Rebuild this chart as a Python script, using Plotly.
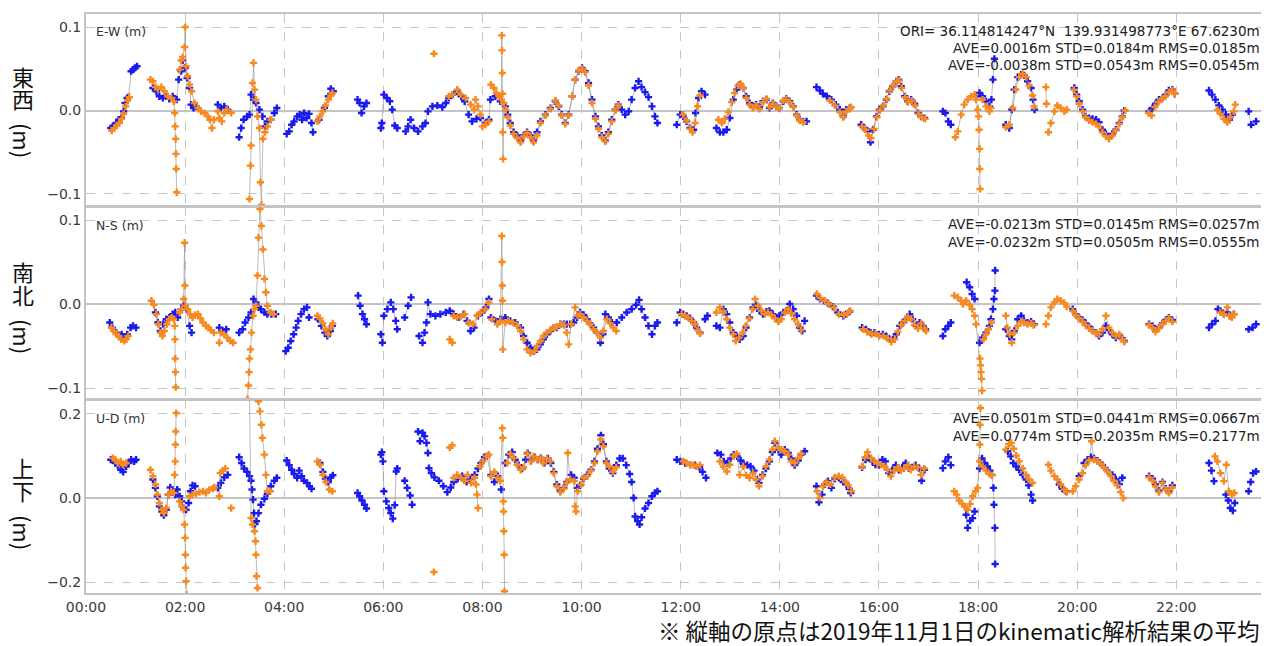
import plotly.graph_objects as go
from plotly.subplots import make_subplots

# ---------------- DATA (hours since 00:00, metres) ----------------
tick_vals = [0, 2, 4, 6, 8, 10, 12, 14, 16, 18, 20, 22]
tick_text = ["00:00", "02:00", "04:00", "06:00", "08:00", "10:00", "12:00",
             "14:00", "16:00", "18:00", "20:00", "22:00"]

# ---- E-W, blue ----
ew_blue_t = [
    [0.50, 0.54, 0.61, 0.66, 0.71, 0.76, 0.79, 0.83, 0.86, 0.91, 0.95, 0.99, 1.03],
    [1.35, 1.42, 1.48, 1.55, 1.62, 1.68, 1.75, 1.83, 1.87, 1.92, 1.95, 2.00, 2.04, 2.09, 2.12, 2.17, 2.22],
    [2.66, 2.72, 2.79, 2.86],
    [3.09, 3.13, 3.18, 3.25, 3.30, 3.33, 3.38, 3.43, 3.50, 3.56, 3.61, 3.66, 3.73, 3.80, 3.85],
    [4.05, 4.10, 4.15, 4.20, 4.26, 4.31, 4.36, 4.40, 4.45, 4.50, 4.55, 4.58],
    [4.70, 4.81, 4.89, 4.94, 4.99],
    [5.48, 5.52, 5.56, 5.61, 5.66],
    [5.95, 5.97, 6.01, 6.07, 6.13, 6.18, 6.23, 6.28],
    [6.45, 6.50, 6.55, 6.62, 6.70, 6.79, 6.85, 6.90, 6.99, 7.09, 7.19, 7.26, 7.32, 7.40, 7.49,
     7.57, 7.64, 7.72, 7.79, 7.88, 7.96, 8.06, 8.13, 8.16, 8.26, 8.36, 8.46, 8.51, 8.56, 8.63,
     8.70, 8.77, 8.83, 8.90, 8.97, 9.03, 9.10, 9.17, 9.27, 9.37, 9.47, 9.54, 9.60, 9.67, 9.74,
     9.81, 9.87, 9.94, 10.01, 10.07, 10.14, 10.21, 10.28, 10.34, 10.41, 10.48, 10.54, 10.61, 10.68, 10.74,
     10.81, 10.88, 10.95, 11.01, 11.08, 11.15, 11.21, 11.28, 11.35, 11.42, 11.48, 11.53],
    [11.92, 11.99, 12.05, 12.12, 12.19, 12.26, 12.30, 12.36, 12.42, 12.49],
    [12.72, 12.79, 12.86, 12.93, 12.99, 13.06, 13.13, 13.19, 13.26, 13.32, 13.39, 13.46, 13.52, 13.59,
     13.66, 13.73, 13.79, 13.86, 13.93, 13.99, 14.07, 14.13, 14.20, 14.27, 14.34, 14.40, 14.47, 14.54],
    [14.74, 14.81, 14.87, 14.95, 15.04, 15.13, 15.21, 15.28, 15.34, 15.41],
    [15.64, 15.71, 15.78, 15.83, 15.88, 15.95, 16.01, 16.08, 16.15, 16.21, 16.28, 16.35, 16.40, 16.45,
     16.52, 16.58, 16.65, 16.72, 16.79, 16.85, 16.92],
    [17.29, 17.34, 17.40, 17.45],
    [17.96, 18.03, 18.09, 18.16, 18.23, 18.27, 18.30, 18.33],
    [18.56, 18.63, 18.68, 18.73, 18.80, 18.87, 18.93, 19.00, 19.07, 19.11, 19.14],
    [19.94, 19.99, 20.04, 20.11, 20.17, 20.24, 20.31, 20.38, 20.44, 20.51, 20.58, 20.64, 20.71, 20.78,
     20.85, 20.91, 20.95],
    [21.45, 21.52, 21.58, 21.65, 21.72, 21.79, 21.85, 21.92, 21.97],
    [22.66, 22.72, 22.79, 22.86, 22.93, 23.00, 23.07, 23.13],
    [23.46, 23.51, 23.61],
]
ew_blue_v = [
    [-0.021, -0.019, -0.015, -0.011, -0.009, -0.001, 0.009, 0.015, 0.016, 0.047, 0.049, 0.051, 0.053],
    [0.027, 0.023, 0.017, 0.015, 0.017, 0.014, 0.017, 0.013, 0.037, 0.047, 0.060, 0.051, 0.039, 0.027, 0.007, 0.003, 0.005],
    [0.007, 0.003, 0.005, 0.001],
    [-0.032, -0.021, -0.011, -0.007, -0.005, 0.019, 0.013, 0.009, 0.001, -0.007, -0.019, -0.013, -0.011, -0.003, 0.003],
    [-0.028, -0.025, -0.017, -0.013, -0.007, -0.005, -0.011, -0.003, -0.009, -0.004, -0.015, -0.026],
    [-0.011, 0.003, 0.017, 0.026, 0.023],
    [0.013, 0.009, -0.003, 0.005, 0.009],
    [-0.021, -0.015, 0.019, 0.015, 0.011, 0.001, -0.018, -0.021],
    [-0.025, -0.019, -0.011, -0.021, -0.025, -0.019, -0.015, -0.001, 0.005, 0.006, 0.004, 0.009, 0.015, 0.019, 0.023,
     0.017, 0.011, -0.005, -0.013, -0.010, -0.009, -0.015, -0.011, 0.013, 0.017, 0.011, 0.005, -0.005, -0.015, -0.026,
     -0.030, -0.036, -0.030, -0.026, -0.030, -0.036, -0.026, -0.013, -0.005, 0.003, 0.011, 0.005, -0.005, -0.015, -0.005,
     0.017, 0.037, 0.047, 0.051, 0.047, 0.033, 0.013, -0.007, -0.019, -0.030, -0.036, -0.026, -0.011, 0.001, 0.007,
     0.001, -0.005, -0.001, 0.013, 0.027, 0.035, 0.028, 0.022, 0.016, 0.005, -0.007, -0.015],
    [-0.017, -0.005, -0.007, -0.013, -0.021, -0.023, -0.003, 0.015, 0.023, 0.019],
    [-0.021, -0.026, -0.026, -0.023, -0.009, 0.013, 0.025, 0.031, 0.027, 0.017, 0.009, 0.005, 0.007, 0.004,
     0.011, 0.013, 0.003, 0.009, 0.005, 0.003, 0.011, 0.014, 0.011, 0.005, -0.005, -0.011, -0.013, -0.013],
    [0.028, 0.024, 0.020, 0.017, 0.013, 0.007, 0.001, -0.007, 0.001, 0.003],
    [-0.017, -0.021, -0.025, -0.038, -0.023, -0.007, 0.001, 0.005, 0.013, 0.023, 0.029, 0.035, 0.037, 0.029,
     0.017, 0.011, 0.013, 0.008, -0.003, -0.007, -0.009],
    [-0.001, -0.003, -0.013, -0.017],
    [0.017, 0.021, 0.017, 0.011, 0.005, 0.013, 0.037, 0.062],
    [-0.017, -0.021, 0.001, 0.025, 0.040, 0.043, 0.042, 0.035, 0.027, 0.013, 0.001],
    [0.027, 0.019, 0.011, 0.001, -0.007, -0.009, -0.010, -0.011, -0.014, -0.023, -0.028, -0.032, -0.028, -0.023,
     -0.015, -0.007, 0.000],
    [-0.001, 0.003, 0.008, 0.013, 0.015, 0.019, 0.024, 0.025, 0.020],
    [0.024, 0.019, 0.013, 0.006, 0.001, -0.005, -0.011, -0.005],
    [-0.001, -0.017, -0.013],
]

# ---- E-W, orange ----
ew_orange_t = [
    [0.52, 0.57, 0.62, 0.67, 0.72, 0.76, 0.80, 0.84, 0.87],
    [1.30, 1.35, 1.40, 1.45, 1.52, 1.58, 1.65, 1.72, 1.77, 1.79, 1.80, 1.81, 1.815, 1.82, 1.83],
    [1.89, 1.92, 1.95, 1.99, 2.00, 2.02, 2.05, 2.09, 2.13, 2.19, 2.26, 2.32, 2.39, 2.46, 2.50, 2.54, 2.58],
    [2.66, 2.69, 2.74, 2.79, 2.84, 2.93],
    [3.30, 3.32, 3.33, 3.36, 3.38, 3.40, 3.43, 3.46, 3.50, 3.52, 3.54, 3.57, 3.61, 3.66, 3.73],
    [4.67, 4.72, 4.78, 4.83, 4.89, 4.94, 4.97],
    [7.02],
    [7.32, 7.39, 7.49, 7.56, 7.66, 7.76, 7.83, 7.86, 7.91, 7.96, 8.00, 8.06, 8.13],
    [8.17, 8.23, 8.28, 8.34, 8.38, 8.39, 8.395, 8.40, 8.405, 8.41, 8.415, 8.43, 8.47],
    [8.51, 8.56, 8.63, 8.70, 8.77, 8.83, 8.90, 8.97, 9.03, 9.10, 9.17, 9.27, 9.37, 9.47, 9.54, 9.60, 9.67,
     9.74, 9.81, 9.87, 9.94, 10.01, 10.07, 10.14, 10.21, 10.28, 10.34, 10.41, 10.48, 10.54, 10.61, 10.68, 10.74],
    [12.05, 12.12, 12.19, 12.24, 12.29, 12.34, 12.39],
    [12.76, 12.83, 12.89, 12.96, 13.03, 13.09, 13.16, 13.21, 13.26, 13.32, 13.39, 13.46, 13.52, 13.59,
     13.66, 13.73, 13.79, 13.86, 13.93, 13.99, 14.07, 14.13, 14.20, 14.27, 14.34, 14.40, 14.47],
    [15.01, 15.11, 15.21, 15.28, 15.34, 15.41, 15.44],
    [15.66, 15.73, 15.79, 15.84, 15.90, 15.96, 16.02, 16.09, 16.16, 16.22, 16.29, 16.36, 16.41, 16.46,
     16.53, 16.59, 16.66, 16.73, 16.80, 16.86, 16.93],
    [17.54, 17.59, 17.66, 17.72, 17.79, 17.86, 17.93, 17.96, 17.99, 18.01, 18.02, 18.03, 18.035, 18.04],
    [18.09, 18.16, 18.23, 18.26],
    [18.56, 18.63, 18.70, 18.76, 18.83, 18.90, 18.97, 19.03, 19.10, 19.13],
    [19.37, 19.38],
    [19.42, 19.47, 19.54, 19.60, 19.67, 19.74, 19.79],
    [19.93, 19.99, 20.04, 20.11, 20.17, 20.24, 20.31, 20.38, 20.44, 20.51, 20.58, 20.64, 20.71, 20.78,
     20.85, 20.91, 20.97],
    [21.44, 21.50, 21.57, 21.64, 21.71, 21.78, 21.85, 21.92, 21.97],
    [22.83, 22.89, 22.96, 23.03, 23.09, 23.16, 23.19],
]
ew_orange_v = [
    [-0.024, -0.021, -0.018, -0.015, -0.010, -0.004, 0.005, 0.012, 0.016],
    [0.037, 0.035, 0.028, 0.026, 0.028, 0.023, 0.017, 0.015, 0.011, -0.003, -0.019, -0.034, -0.052, -0.070, -0.098],
    [0.049, 0.060, 0.064, 0.076, 0.100, 0.053, 0.041, 0.031, 0.023, 0.009, 0.003, -0.001, -0.003, -0.007, -0.011, -0.021, -0.011],
    [-0.001, -0.009, -0.013, -0.003, 0.001, -0.003],
    [-0.106, -0.066, -0.042, 0.033, 0.057, 0.025, 0.013, -0.007, -0.021, -0.086, -0.113, -0.034, -0.026, -0.019, -0.011],
    [-0.013, -0.007, -0.001, 0.006, 0.013, 0.018, 0.021],
    [0.068],
    [0.017, 0.019, 0.025, 0.019, 0.015, 0.007, 0.001, 0.013, 0.005, -0.005, -0.019, -0.017, -0.013],
    [0.031, 0.027, 0.021, 0.017, 0.013, 0.090, 0.072, 0.045, 0.020, -0.026, -0.058, 0.009, 0.001],
    [-0.008, -0.018, -0.028, -0.033, -0.038, -0.031, -0.027, -0.032, -0.038, -0.030, -0.015, -0.006, 0.002, 0.012,
     0.006, -0.006, -0.016, -0.006, 0.017, 0.037, 0.048, 0.050, 0.046, 0.030, 0.009, -0.010, -0.022, -0.032, -0.037,
     -0.028, -0.013, 0.000, 0.006],
    [-0.005, -0.012, -0.022, -0.026, -0.015, 0.005, 0.018],
    [-0.011, -0.015, -0.010, -0.002, 0.010, 0.021, 0.030, 0.032, 0.027, 0.015, 0.007, 0.003, 0.006, 0.002,
     0.010, 0.014, 0.004, 0.008, 0.004, 0.003, 0.012, 0.013, 0.010, 0.004, -0.006, -0.012, -0.014],
    [0.012, 0.006, -0.002, -0.008, -0.001, 0.002, 0.004],
    [-0.019, -0.023, -0.030, -0.033, -0.022, -0.008, 0.000, 0.006, 0.014, 0.024, 0.030, 0.035, 0.036, 0.027,
     0.016, 0.010, 0.012, 0.006, -0.004, -0.008, -0.010],
    [-0.032, -0.025, -0.005, 0.007, 0.013, 0.017, 0.019, 0.013, 0.001, -0.007, -0.023, -0.046, -0.070, -0.094],
    [0.013, 0.005, -0.001, 0.003],
    [-0.020, -0.017, 0.003, 0.025, 0.040, 0.044, 0.040, 0.030, 0.018, 0.005],
    [0.028, 0.008],
    [-0.026, -0.015, -0.001, 0.006, 0.003, -0.001, 0.001],
    [0.025, 0.017, 0.008, -0.001, -0.008, -0.012, -0.014, -0.016, -0.019, -0.026, -0.031, -0.034, -0.030, -0.024,
     -0.016, -0.008, 0.000],
    [-0.003, -0.006, 0.004, 0.010, 0.014, 0.017, 0.022, 0.024, 0.020],
    [0.001, -0.004, -0.010, -0.014, -0.008, -0.001, 0.007],
]

# ---- N-S, blue ----
ns_blue_t = [
    [0.48, 0.53, 0.61, 0.68, 0.72, 0.78, 0.83, 0.90, 0.95, 1.01],
    [1.40, 1.45, 1.50, 1.56, 1.62, 1.68, 1.75, 1.80, 1.85, 1.92, 1.97, 2.03, 2.09, 2.13],
    [2.69, 2.76, 2.83],
    [3.09, 3.16, 3.21, 3.28, 3.33, 3.38, 3.43, 3.48, 3.53, 3.60, 3.66, 3.74, 3.83],
    [4.03, 4.08, 4.13, 4.19, 4.24, 4.28, 4.34, 4.40, 4.46, 4.50],
    [4.68, 4.75, 4.82, 4.87, 4.93, 4.97],
    [5.49, 5.53, 5.58, 5.62, 5.66],
    [5.95, 5.98, 6.01, 6.08, 6.15, 6.20, 6.25, 6.28],
    [6.43, 6.50, 6.56],
    [6.72, 6.79, 6.83, 6.87, 6.90, 6.95, 7.05, 7.15, 7.26, 7.34, 7.42, 7.52, 7.62, 7.69, 7.76, 7.83, 7.91,
     7.99, 8.07, 8.13],
    [8.17, 8.26, 8.36, 8.46, 8.56, 8.66, 8.77, 8.83, 8.90, 8.97, 9.03, 9.10, 9.17, 9.23, 9.30, 9.37, 9.44,
     9.50, 9.57, 9.64, 9.70, 9.77, 9.84, 9.91, 9.97, 10.04, 10.11, 10.17, 10.24, 10.31, 10.38, 10.43, 10.48,
     10.54, 10.61, 10.71, 10.81, 10.91, 11.01, 11.10, 11.16, 11.21, 11.28, 11.35, 11.42, 11.48, 11.53],
    [11.92, 11.99, 12.05, 12.12, 12.19, 12.26, 12.32, 12.39],
    [12.49, 12.54],
    [12.72, 12.79, 12.86, 12.93, 12.99, 13.06, 13.13, 13.19, 13.26, 13.32, 13.39, 13.46, 13.52, 13.59,
     13.66, 13.73, 13.79, 13.86, 13.93, 13.99, 14.07, 14.13, 14.20, 14.27, 14.34, 14.40, 14.45, 14.50],
    [14.74, 14.81, 14.89, 14.97, 15.07, 15.17, 15.28, 15.34, 15.41],
    [15.66, 15.74, 15.83, 15.91, 16.00, 16.08, 16.15, 16.21, 16.28, 16.35, 16.42, 16.48, 16.55, 16.62,
     16.68, 16.75, 16.82, 16.89, 16.94],
    [17.29, 17.34, 17.40, 17.45],
    [17.77, 17.83, 17.88, 17.93],
    [18.03, 18.09, 18.16, 18.23, 18.26, 18.30, 18.32, 18.34, 18.345],
    [18.56, 18.63, 18.68, 18.73, 18.80, 18.87, 18.93, 19.00, 19.07, 19.13],
    [19.91, 19.97, 20.04, 20.11, 20.17, 20.24, 20.31, 20.38, 20.44, 20.51, 20.58, 20.64, 20.71, 20.78,
     20.85, 20.91, 20.95],
    [21.45, 21.52, 21.58, 21.65, 21.72, 21.79, 21.85, 21.92],
    [22.66, 22.72, 22.79, 22.84, 22.89, 22.96, 23.03, 23.09, 23.16],
    [23.46, 23.54, 23.61],
]
ns_blue_v = [
    [-0.022, -0.028, -0.034, -0.038, -0.036, -0.040, -0.036, -0.028, -0.026, -0.028],
    [-0.010, -0.022, -0.032, -0.024, -0.018, -0.016, -0.012, -0.010, -0.016, -0.006, -0.002, -0.006, -0.026, -0.034],
    [-0.028, -0.032, -0.030],
    [-0.034, -0.030, -0.022, -0.016, -0.010, 0.006, 0.002, -0.004, -0.006, -0.010, -0.012, -0.012, -0.012],
    [-0.056, -0.052, -0.044, -0.036, -0.028, -0.020, -0.012, -0.006, -0.004, -0.016],
    [-0.018, -0.026, -0.034, -0.038, -0.032, -0.026],
    [0.010, -0.002, -0.012, -0.018, -0.024],
    [-0.036, -0.046, -0.014, -0.006, 0.002, -0.006, -0.020, -0.030],
    [-0.016, -0.002, 0.008],
    [-0.038, -0.046, -0.034, -0.022, 0.002, -0.012, -0.014, -0.012, -0.010, -0.008, -0.012, -0.016, -0.012,
     -0.020, -0.032, -0.028, -0.014, -0.010, -0.004, 0.006],
    [-0.016, -0.020, -0.018, -0.016, -0.020, -0.022, -0.028, -0.038, -0.046, -0.052, -0.056, -0.054, -0.048,
     -0.042, -0.036, -0.032, -0.028, -0.028, -0.024, -0.024, -0.024, -0.024, -0.022, -0.016, -0.010, -0.013,
     -0.018, -0.023, -0.028, -0.034, -0.046, -0.036, -0.012, -0.016, -0.022, -0.022, -0.016, -0.010, -0.006,
     -0.001, 0.005, -0.006, -0.016, -0.026, -0.036, -0.026, -0.022],
    [-0.022, -0.010, -0.012, -0.014, -0.017, -0.022, -0.028, -0.034],
    [-0.018, -0.014],
    [-0.026, -0.028, -0.006, -0.012, -0.022, -0.034, -0.038, -0.042, -0.038, -0.028, -0.016, -0.004, -0.001,
     -0.008, -0.012, -0.009, -0.008, -0.012, -0.016, -0.014, -0.010, -0.008, 0.000, -0.006, -0.014, -0.028,
     -0.032, -0.020],
    [0.010, 0.006, 0.004, 0.001, -0.003, -0.010, -0.014, -0.012, -0.009],
    [-0.028, -0.030, -0.034, -0.034, -0.036, -0.036, -0.038, -0.042, -0.042, -0.036, -0.026, -0.022, -0.018,
     -0.012, -0.018, -0.026, -0.022, -0.026, -0.030],
    [-0.038, -0.030, -0.026, -0.022],
    [0.026, 0.020, 0.012, 0.006],
    [-0.046, -0.040, -0.034, -0.026, -0.018, -0.006, 0.006, 0.016, 0.040],
    [-0.030, -0.038, -0.042, -0.032, -0.018, -0.014, -0.020, -0.022, -0.021, -0.024],
    [-0.006, -0.012, -0.016, -0.019, -0.023, -0.027, -0.031, -0.034, -0.038, -0.034, -0.026, -0.031, -0.036,
     -0.040, -0.038, -0.041, -0.044],
    [-0.024, -0.026, -0.030, -0.028, -0.023, -0.019, -0.016, -0.019],
    [-0.028, -0.024, -0.020, -0.006, -0.008, -0.012, -0.010, -0.014, -0.012],
    [-0.030, -0.028, -0.024],
]

# ---- N-S, orange ----
ns_orange_t = [
    [0.51, 0.56, 0.61, 0.66, 0.71, 0.77, 0.81, 0.85],
    [1.32, 1.37, 1.42, 1.46, 1.50, 1.54, 1.58, 1.63, 1.68, 1.73, 1.77, 1.79, 1.795, 1.80, 1.805, 1.81],
    [1.89, 1.93, 1.97, 1.99, 1.995, 2.01, 2.05, 2.10, 2.15, 2.20, 2.26, 2.31, 2.36, 2.42, 2.47, 2.52, 2.58],
    [2.69, 2.72, 2.78, 2.85, 2.91, 2.97],
    [3.26, 3.28, 3.29, 3.30, 3.32, 3.34, 3.37, 3.40, 3.43, 3.46, 3.48, 3.51, 3.54, 3.57, 3.60, 3.63, 3.66, 3.72, 3.79],
    [4.67, 4.72, 4.78, 4.83, 4.89, 4.94, 4.98],
    [7.34, 7.39],
    [7.42, 7.49, 7.56, 7.64, 7.72, 7.81, 7.89, 7.96, 8.06, 8.13],
    [8.19, 8.30, 8.36, 8.39, 8.395, 8.40, 8.405, 8.41, 8.46, 8.53, 8.61, 8.70, 8.77, 8.83, 8.90, 8.97, 9.05,
     9.10, 9.17, 9.23, 9.30, 9.37, 9.44, 9.50, 9.57, 9.64, 9.70, 9.74, 9.79, 9.87, 9.92, 9.97, 10.04, 10.11,
     10.17, 10.24, 10.31, 10.38, 10.44, 10.51, 10.58, 10.64, 10.70],
    [12.02, 12.09, 12.15, 12.22, 12.29, 12.34, 12.39],
    [12.72, 12.79, 12.86, 12.93, 12.99, 13.06, 13.11, 13.18, 13.25, 13.31, 13.38, 13.45, 13.50, 13.56,
     13.63, 13.70, 13.76, 13.83, 13.90, 13.97, 14.03, 14.10, 14.17, 14.23, 14.30, 14.37, 14.43],
    [14.75, 14.82, 14.91, 14.99, 15.09, 15.19, 15.29, 15.36, 15.42],
    [15.68, 15.76, 15.85, 15.93, 16.01, 16.09, 16.18, 16.25, 16.32, 16.38, 16.45, 16.52, 16.58, 16.65,
     16.72, 16.79, 16.85, 16.92, 16.95],
    [17.52, 17.59, 17.66, 17.70, 17.76, 17.83, 17.88, 17.93, 17.96, 18.04, 18.05, 18.06, 18.07, 18.08],
    [18.11, 18.16, 18.21, 18.27],
    [18.56, 18.59, 18.64, 18.68, 18.73, 18.80, 18.87, 18.93, 19.00, 19.07, 19.12],
    [19.37],
    [19.42, 19.47, 19.54, 19.60, 19.67, 19.74, 19.79],
    [19.91, 19.97, 20.04, 20.11, 20.17, 20.24, 20.31, 20.38, 20.44, 20.51, 20.58, 20.64, 20.71, 20.78,
     20.85, 20.91, 20.95],
    [21.45, 21.52, 21.58, 21.65, 21.72, 21.79, 21.85, 21.92],
    [22.89, 22.96, 23.03, 23.07, 23.12, 23.17],
]
ns_orange_v = [
    [-0.028, -0.032, -0.036, -0.038, -0.042, -0.044, -0.042, -0.038],
    [0.004, -0.001, -0.012, -0.024, -0.034, -0.038, -0.032, -0.024, -0.018, -0.016, -0.018, -0.026, -0.042,
     -0.065, -0.081, -0.099],
    [-0.010, -0.006, 0.006, 0.073, 0.022, -0.002, -0.006, -0.012, -0.016, -0.013, -0.012, -0.017, -0.022,
     -0.026, -0.028, -0.031, -0.034],
    [-0.046, -0.034, -0.036, -0.040, -0.044, -0.046],
    [-0.113, -0.097, -0.081, -0.065, -0.054, -0.034, -0.014, -0.006, -0.002, 0.034, 0.079, 0.113, 0.093, 0.065,
     0.030, 0.014, -0.002, -0.010, -0.012],
    [-0.014, -0.017, -0.023, -0.030, -0.036, -0.028, -0.023],
    [-0.042, -0.046],
    [-0.014, -0.016, -0.015, -0.012, -0.022, -0.024, -0.014, -0.010, -0.006, 0.002],
    [-0.018, -0.024, -0.020, 0.081, 0.050, 0.022, 0.004, -0.054, -0.022, -0.020, -0.022, -0.026, -0.032,
     -0.042, -0.054, -0.058, -0.056, -0.050, -0.044, -0.038, -0.034, -0.031, -0.028, -0.027, -0.024, -0.025,
     -0.034, -0.048, -0.024, -0.004, -0.014, -0.012, -0.016, -0.020, -0.024, -0.030, -0.034, -0.040, -0.032,
     -0.018, -0.023, -0.028, -0.032],
    [-0.012, -0.014, -0.016, -0.020, -0.024, -0.031, -0.035],
    [-0.010, -0.004, -0.010, -0.018, -0.028, -0.036, -0.044, -0.040, -0.034, -0.026, -0.017, -0.006, 0.006,
     -0.002, -0.008, -0.012, -0.010, -0.013, -0.017, -0.021, -0.018, -0.010, -0.006, -0.011, -0.018, -0.024, -0.031],
    [0.012, 0.007, 0.004, 0.000, -0.004, -0.012, -0.013, -0.011, -0.008],
    [-0.030, -0.033, -0.036, -0.035, -0.038, -0.038, -0.041, -0.045, -0.042, -0.033, -0.025, -0.020, -0.015,
     -0.018, -0.025, -0.029, -0.023, -0.029, -0.032],
    [0.010, 0.008, 0.004, 0.000, 0.004, -0.001, -0.006, -0.014, -0.024, -0.065, -0.073, -0.081, -0.089, -0.103],
    [-0.042, -0.036, -0.030, -0.022],
    [-0.014, -0.028, -0.036, -0.046, -0.034, -0.026, -0.021, -0.022, -0.024, -0.023, -0.025],
    [-0.024],
    [-0.014, -0.004, 0.002, 0.006, 0.004, 0.001, -0.003],
    [-0.008, -0.013, -0.017, -0.021, -0.025, -0.029, -0.032, -0.035, -0.036, -0.030, -0.014, -0.028, -0.034,
     -0.038, -0.036, -0.042, -0.045],
    [-0.025, -0.028, -0.033, -0.029, -0.024, -0.020, -0.017, -0.021],
    [-0.010, -0.012, -0.004, -0.014, -0.016, -0.012],
]

# ---- U-D, blue ----
ud_blue_t = [
    [0.50, 0.54, 0.59, 0.64, 0.70, 0.75, 0.81, 0.86, 0.91, 0.97, 1.01],
    [1.35, 1.40, 1.44, 1.48, 1.53, 1.57, 1.62, 1.66, 1.70, 1.75, 1.80, 1.84, 1.89, 1.93, 1.97, 2.02, 2.07, 2.11, 2.15, 2.20],
    [2.66, 2.72, 2.79, 2.86],
    [3.09, 3.14, 3.19, 3.25, 3.30, 3.33, 3.35, 3.37, 3.39, 3.41, 3.44, 3.48, 3.53, 3.60, 3.66, 3.73, 3.80, 3.85],
    [4.05, 4.10, 4.15, 4.20, 4.26, 4.30, 4.35, 4.40, 4.46, 4.51, 4.55],
    [4.72, 4.78, 4.83, 4.89, 4.94, 4.98],
    [5.48, 5.52, 5.57, 5.62, 5.66],
    [5.95, 5.97, 5.99, 6.01, 6.06, 6.11, 6.15, 6.19, 6.23, 6.26, 6.28],
    [6.43, 6.48, 6.54, 6.58],
    [6.70, 6.74, 6.79, 6.83, 6.87, 6.90],
    [6.92, 6.97, 7.03, 7.12, 7.21, 7.29, 7.36, 7.42, 7.50, 7.59, 7.68, 7.76, 7.84, 7.91, 7.97, 8.04, 8.09,
     8.17, 8.24, 8.31, 8.38],
    [8.46, 8.53, 8.60, 8.66, 8.73, 8.80, 8.87, 8.91, 8.98, 9.05, 9.11, 9.18, 9.25, 9.32, 9.38, 9.44, 9.50,
     9.57, 9.64, 9.70, 9.79, 9.85, 9.91, 9.97, 10.04, 10.11, 10.19, 10.26, 10.32, 10.39, 10.44, 10.50, 10.56,
     10.63, 10.70, 10.77, 10.83, 10.90, 10.97, 11.01, 11.05, 11.08, 11.13, 11.17, 11.21, 11.28, 11.35, 11.42,
     11.48, 11.53],
    [11.92, 11.99, 12.09, 12.19, 12.29, 12.38, 12.44, 12.51],
    [12.74, 12.81, 12.87, 12.94, 13.01, 13.07, 13.14, 13.21, 13.27, 13.34, 13.41, 13.48, 13.54, 13.58,
     13.65, 13.72, 13.79, 13.85, 13.90, 13.97, 14.03, 14.10, 14.17, 14.23, 14.30, 14.37, 14.43, 14.50],
    [14.74, 14.79, 14.85, 14.91, 14.97, 15.04, 15.11, 15.19, 15.28, 15.34, 15.40, 15.43],
    [15.66, 15.73, 15.80, 15.87, 15.93, 16.00, 16.07, 16.13, 16.20, 16.27, 16.34, 16.40, 16.47, 16.54,
     16.60, 16.67, 16.74, 16.81, 16.86, 16.92],
    [17.29, 17.34, 17.40, 17.45],
    [17.76, 17.79, 17.84, 17.89, 17.93],
    [18.03, 18.08, 18.13, 18.19, 18.24, 18.28, 18.31, 18.32, 18.34, 18.345],
    [18.60, 18.66, 18.71, 18.77, 18.83, 18.90, 18.97, 19.02, 19.07, 19.10],
    [19.64, 19.70, 19.77],
    [20.04, 20.14, 20.21, 20.28, 20.34, 20.41, 20.51, 20.61, 20.71, 20.78, 20.85, 20.91],
    [21.45, 21.52, 21.58, 21.65, 21.72, 21.79, 21.85, 21.92],
    [22.66, 22.71, 22.76],
    [23.00, 23.05, 23.09, 23.14, 23.18],
    [23.46, 23.50, 23.55, 23.61],
]
ud_blue_v = [
    [0.091, 0.091, 0.083, 0.078, 0.067, 0.062, 0.075, 0.083, 0.091, 0.087, 0.091],
    [0.044, 0.024, 0.004, -0.020, -0.032, -0.041, -0.028, 0.008, 0.025, 0.016, 0.008, 0.020, 0.004, -0.008,
     -0.024, -0.028, -0.012, 0.016, 0.030, 0.028],
    [0.024, 0.036, 0.049, 0.055],
    [0.097, 0.083, 0.070, 0.062, 0.052, 0.041, 0.020, -0.004, -0.036, -0.062, -0.055, -0.036, -0.016, -0.002,
     0.010, 0.028, 0.041, 0.048],
    [0.089, 0.078, 0.067, 0.057, 0.048, 0.065, 0.052, 0.041, 0.036, 0.028, 0.022],
    [0.083, 0.062, 0.046, 0.038, 0.049, 0.054],
    [0.012, 0.004, -0.006, -0.016, -0.025],
    [0.103, 0.109, 0.087, 0.016, -0.008, -0.024, -0.036, -0.049, -0.017, 0.063, 0.070],
    [0.041, 0.024, 0.006, -0.016],
    [0.158, 0.135, 0.155, 0.147, 0.131, 0.107],
    [0.071, 0.059, 0.049, 0.041, 0.028, 0.014, 0.025, 0.038, 0.046, 0.052, 0.038, 0.046, 0.055, 0.070, 0.083,
     0.097, 0.099, 0.055, 0.038, 0.052, 0.020],
    [0.083, 0.103, 0.109, 0.091, 0.078, 0.070, 0.091, 0.107, 0.089, 0.097, 0.091, 0.095, 0.083, 0.094, 0.083,
     0.062, 0.032, 0.017, 0.024, 0.038, 0.055, 0.048, 0.024, 0.030, 0.046, 0.055, 0.067, 0.087, 0.117, 0.149,
     0.128, 0.087, 0.070, 0.059, 0.078, 0.094, 0.094, 0.078, 0.057, 0.038, 0.000, -0.044, -0.055, -0.063,
     -0.046, -0.025, -0.012, 0.004, 0.012, 0.016],
    [0.091, 0.087, 0.083, 0.079, 0.078, 0.073, 0.062, 0.048],
    [0.107, 0.103, 0.087, 0.083, 0.094, 0.103, 0.099, 0.089, 0.081, 0.078, 0.075, 0.065, 0.044, 0.036, 0.055,
     0.070, 0.087, 0.109, 0.131, 0.115, 0.103, 0.115, 0.107, 0.094, 0.078, 0.089, 0.103, 0.111],
    [0.028, -0.010, 0.008, 0.032, 0.040, 0.024, 0.046, 0.048, 0.038, 0.033, 0.022, 0.012],
    [0.073, 0.091, 0.095, 0.087, 0.079, 0.078, 0.091, 0.087, 0.059, 0.067, 0.078, 0.067, 0.073, 0.083, 0.071,
     0.073, 0.078, 0.071, 0.041, 0.067],
    [0.071, 0.087, 0.097, 0.078],
    [-0.040, -0.071, -0.054, -0.048, -0.032],
    [0.070, 0.094, 0.083, 0.075, 0.065, 0.055, 0.024, -0.016, -0.071, -0.157],
    [0.111, 0.099, 0.083, 0.075, 0.067, 0.055, 0.044, 0.030, 0.008, -0.006],
    [0.032, 0.022, 0.016],
    [0.052, 0.083, 0.091, 0.097, 0.094, 0.089, 0.078, 0.065, 0.055, 0.044, 0.033, 0.048],
    [0.052, 0.046, 0.032, 0.017, 0.038, 0.022, 0.016, 0.030],
    [0.083, 0.065, 0.040],
    [0.008, -0.006, -0.024, -0.030, -0.012],
    [0.016, 0.038, 0.059, 0.063],
]

# ---- U-D, orange ----
ud_orange_t = [
    [0.54, 0.59, 0.64, 0.70, 0.75, 0.81],
    [1.30, 1.35, 1.40, 1.44, 1.48, 1.53, 1.57, 1.62, 1.66, 1.72, 1.77, 1.79, 1.80, 1.805, 1.81, 1.82],
    [1.89, 1.93, 1.97, 1.99, 2.00, 2.005, 2.01, 2.02, 2.03],
    [2.09, 2.15, 2.22, 2.29, 2.36, 2.42, 2.49, 2.56, 2.59],
    [2.69, 2.71, 2.76, 2.81],
    [2.93],
    [3.30, 3.33, 3.36, 3.40, 3.42, 3.43, 3.44, 3.46],
    [3.48, 3.51, 3.54, 3.56, 3.60, 3.63, 3.66, 3.72],
    [4.67, 4.72, 4.78, 4.84, 4.91, 4.97],
    [7.02],
    [7.34, 7.39],
    [7.42, 7.49, 7.57, 7.64, 7.70, 7.77, 7.84, 7.87, 7.89, 7.91],
    [7.95, 8.01, 8.08, 8.13, 8.17, 8.24, 8.31, 8.36, 8.40, 8.41, 8.42, 8.425, 8.43, 8.44, 8.445],
    [8.50, 8.56, 8.63, 8.70, 8.77, 8.83, 8.90, 8.97, 9.03, 9.10, 9.17, 9.23, 9.30, 9.37, 9.44, 9.50, 9.57,
     9.64, 9.70, 9.72, 9.77, 9.85, 9.87, 9.89, 9.92, 9.99, 10.05, 10.12, 10.19, 10.26, 10.32, 10.39, 10.44,
     10.50, 10.56, 10.63, 10.70],
    [12.05, 12.12, 12.19, 12.26, 12.32, 12.39],
    [12.79, 12.86, 12.93, 12.99, 13.06, 13.13, 13.19, 13.26, 13.32, 13.39, 13.46, 13.52, 13.58, 13.65,
     13.72, 13.79, 13.85, 13.90, 13.97, 14.03, 14.10, 14.17, 14.23, 14.30, 14.37, 14.43],
    [14.75, 14.81, 14.87, 14.94, 15.02, 15.11, 15.19, 15.26, 15.33, 15.38, 15.44],
    [15.66, 15.72, 15.77, 15.84, 15.91, 15.97, 16.04, 16.11, 16.17, 16.24, 16.31, 16.38, 16.44, 16.51,
     16.58, 16.64, 16.71, 16.78, 16.85, 16.91],
    [17.52, 17.57, 17.62, 17.68, 17.73, 17.79, 17.84, 17.89, 17.95, 17.99, 18.03, 18.035, 18.04, 18.05],
    [18.09, 18.16, 18.23, 18.28],
    [18.56, 18.62, 18.67, 18.72, 18.77, 18.83, 18.90, 18.97, 19.03, 19.10],
    [19.42, 19.47, 19.54, 19.60, 19.67, 19.74, 19.79],
    [19.91, 19.97, 20.04, 20.11, 20.17, 20.24, 20.29, 20.34, 20.41, 20.48, 20.54, 20.61, 20.68, 20.74,
     20.81, 20.88, 20.93],
    [21.45, 21.52, 21.58, 21.65, 21.72, 21.79, 21.85, 21.92],
    [22.78, 22.83, 22.89, 22.96, 23.01, 23.06, 23.12, 23.17],
]
ud_orange_v = [
    [0.095, 0.091, 0.083, 0.087, 0.079, 0.083],
    [0.067, 0.052, 0.032, 0.008, -0.012, -0.028, -0.036, -0.024, 0.008, 0.016, 0.012, 0.055, 0.087, 0.127,
     0.158, 0.202],
    [-0.008, -0.020, -0.028, -0.063, -0.095, -0.135, -0.166, -0.198, -0.230],
    [0.004, 0.008, 0.010, 0.014, 0.016, 0.012, 0.020, 0.022, 0.025],
    [0.004, 0.059, 0.065, 0.070],
    [-0.024],
    [0.242, -0.048, -0.063, -0.079, -0.103, -0.135, -0.186, -0.214],
    [0.230, 0.206, 0.174, 0.143, 0.103, 0.055, 0.016, 0.016],
    [0.087, 0.079, 0.055, 0.038, 0.020, 0.016],
    [-0.176],
    [0.120, 0.125],
    [0.048, 0.055, 0.048, 0.041, 0.055, 0.036, 0.048, 0.032, 0.008, -0.024],
    [0.075, 0.087, 0.099, 0.103, 0.052, 0.062, 0.048, 0.041, 0.166, 0.143, -0.008, -0.032, -0.079, -0.135, -0.222],
    [0.083, 0.105, 0.095, 0.079, 0.067, 0.073, 0.105, 0.087, 0.099, 0.091, 0.095, 0.083, 0.094, 0.087, 0.059,
     0.028, 0.014, 0.022, 0.036, 0.107, 0.044, 0.040, -0.020, -0.032, 0.016, 0.032, 0.048, 0.052, 0.065,
     0.083, 0.111, 0.139, 0.123, 0.083, 0.075, 0.062, 0.073],
    [0.087, 0.083, 0.079, 0.078, 0.075, 0.078],
    [0.087, 0.075, 0.063, 0.079, 0.099, 0.105, 0.055, 0.075, 0.054, 0.048, 0.059, 0.044, 0.028, 0.052, 0.075,
     0.091, 0.115, 0.135, 0.119, 0.115, 0.111, 0.103, 0.087, 0.083, 0.095, 0.105],
    [0.016, 0.000, 0.028, 0.038, 0.032, 0.049, 0.052, 0.049, 0.038, 0.030, 0.016],
    [0.075, 0.097, 0.109, 0.095, 0.087, 0.083, 0.079, 0.075, 0.067, 0.052, 0.065, 0.073, 0.065, 0.070, 0.078,
     0.067, 0.075, 0.073, 0.055, 0.070],
    [0.016, 0.008, -0.006, -0.014, -0.020, -0.028, -0.014, 0.004, 0.016, 0.024, 0.087, 0.127, 0.174, 0.214],
    [0.075, 0.065, 0.057, 0.054],
    [0.115, 0.128, 0.131, 0.117, 0.101, 0.087, 0.070, 0.055, 0.044, 0.036],
    [0.079, 0.065, 0.052, 0.044, 0.032, 0.020, 0.014],
    [0.016, 0.028, 0.044, 0.059, 0.078, 0.089, 0.135, 0.091, 0.087, 0.081, 0.073, 0.063, 0.052, 0.041, 0.030,
     0.014, 0.000],
    [0.049, 0.041, 0.028, 0.014, 0.036, 0.020, 0.012, 0.025],
    [0.099, 0.087, 0.059, 0.040, 0.079, 0.016, 0.008, 0.012],
]

panel_names = ["E-W (m)", "N-S (m)", "U-D (m)"]
stats_text = [
    ["ORI= 36.114814247°N  139.931498773°E 67.6230m",
     "AVE=0.0016m STD=0.0184m RMS=0.0185m",
     "AVE=-0.0038m STD=0.0543m RMS=0.0545m"],
    ["AVE=-0.0213m STD=0.0145m RMS=0.0257m",
     "AVE=-0.0232m STD=0.0505m RMS=0.0555m"],
    ["AVE=0.0501m STD=0.0441m RMS=0.0667m",
     "AVE=0.0774m STD=0.2035m RMS=0.2177m"],
]
side_labels = [["東", "西"], ["南", "北"], ["上", "下"]]
unit_label = "(m)"
footnote = "※ 縦軸の原点は2019年11月1日のkinematic解析結果の平均"

# ---------------- FIGURE ----------------
# The page body keeps its default 8 px margin, so the figure is drawn 8 px
# smaller and every page-pixel position below is shifted by OFF.
OFF = 8
W, H = 1269 - OFF, 646 - OFF
L, R, T, B = 86 - OFF, 1267 - OFF, 14 - OFF, 593 - OFF
BLUE = "#1a1aee"
ORANGE = "#f7891f"
LINEC = "rgba(140,140,140,0.75)"


def flat(ts, vs):
    X, Y = [], []
    for t, v in zip(ts, vs):
        if len(t) != len(v):
            raise ValueError("length mismatch %s" % t[:2])
        X += list(t) + [None]
        Y += list(v) + [None]
    return X, Y


def px_x(px):  # page pixel -> paper coordinate
    return (px - OFF - L) / (R - L)


def px_y(py):
    return (B - (py - OFF)) / (B - T)


fig = make_subplots(rows=3, cols=1, shared_xaxes=True, vertical_spacing=0.002)

series = [
    (ew_blue_t, ew_blue_v, ew_orange_t, ew_orange_v),
    (ns_blue_t, ns_blue_v, ns_orange_t, ns_orange_v),
    (ud_blue_t, ud_blue_v, ud_orange_t, ud_orange_v),
]
for i, (bt, bv, ot, ov) in enumerate(series):
    for ts, vs, col in ((bt, bv, BLUE), (ot, ov, ORANGE)):
        X, Y = flat(ts, vs)
        fig.add_trace(go.Scatter(x=X, y=Y, mode="lines", connectgaps=False,
                                 line=dict(color=LINEC, width=0.8),
                                 hoverinfo="skip", showlegend=False), row=i + 1, col=1)
        fig.add_trace(go.Scatter(x=X, y=Y, mode="markers",
                                 marker=dict(symbol="cross", size=6, color=col,
                                             line=dict(width=0)),
                                 showlegend=False), row=i + 1, col=1)

# panel geometry (page-pixel rows of each plot box)
rows_px = [(14, 206), (207, 399), (400, 593)]
y_ranges = [[-0.1144, 0.1156], [-0.113, 0.1155], [-0.226, 0.233]]
y_ticks = [[-0.1, 0.0, 0.1], [-0.1, 0.0, 0.1], [-0.2, 0.0, 0.2]]

tick_font = dict(family="DejaVu Sans", size=14, color="#3a3a3a")
axis_common = dict(showline=True, mirror=True, linecolor="#c4c4c4", linewidth=2,
                   showgrid=True, gridcolor="#c6c6c6", griddash="dash", gridwidth=1,
                   ticks="", tickfont=tick_font)

for i in range(3):
    top, bot = rows_px[i]
    yname = "yaxis" if i == 0 else "yaxis%d" % (i + 1)
    xname = "xaxis" if i == 0 else "xaxis%d" % (i + 1)
    fig.layout[yname].update(domain=[px_y(bot), px_y(top)], range=y_ranges[i],
                             tickvals=y_ticks[i], tickformat=".1f",
                             zeroline=True, zerolinecolor="#c4c4c4", zerolinewidth=2,
                             **axis_common)
    fig.layout[xname].update(range=[0, 23.79], tickvals=tick_vals, ticktext=tick_text,
                             zeroline=False, showticklabels=(i == 2), **axis_common)

annotations = []
label_px = [31, 225, 418]
for i in range(3):
    annotations.append(dict(xref="paper", yref="paper", x=px_x(94), y=px_y(label_px[i]),
                            text=panel_names[i], showarrow=False, xanchor="left", yanchor="middle",
                            font=dict(family="DejaVu Sans", size=12.5, color="#333333")))
stats_px = [[31, 48, 65], [224, 242], [418, 436]]
for i in range(3):
    for txt, py in zip(stats_text[i], stats_px[i]):
        annotations.append(dict(xref="paper", yref="paper", x=px_x(1264), y=px_y(py),
                                text=txt, showarrow=False, xanchor="right", yanchor="middle",
                                font=dict(family="DejaVu Sans", size=13.5, color="#222222")))

# vertical side labels: upright kanji, then "(m)" rotated clockwise
side_font = dict(family="Noto Sans CJK JP", size=22, color="#111111")
char_px = [[76, 98], [271, 294], [467, 490]]
unit_px = [140, 336, 532]
for i in range(3):
    for ch, py in zip(side_labels[i], char_px[i]):
        annotations.append(dict(xref="paper", yref="paper", x=px_x(23), y=px_y(py), text=ch,
                                showarrow=False, xanchor="center", yanchor="middle",
                                borderpad=0, font=side_font))
    annotations.append(dict(xref="paper", yref="paper", x=px_x(23), y=px_y(unit_px[i]), text=unit_label,
                            textangle=90, showarrow=False, xanchor="center", yanchor="middle",
                            borderpad=0, font=side_font))

annotations.append(dict(xref="paper", yref="paper", x=px_x(1263), y=px_y(630), text=footnote,
                        showarrow=False, xanchor="right", yanchor="middle", borderpad=0,
                        font=dict(family="Noto Sans CJK JP", size=22.5, color="#111111")))

fig.update_layout(width=W, height=H, margin=dict(l=L, r=W - R, t=T, b=H - B),
                  paper_bgcolor="white", plot_bgcolor="white",
                  annotations=annotations, showlegend=False)

fig.write_html("out.html")
